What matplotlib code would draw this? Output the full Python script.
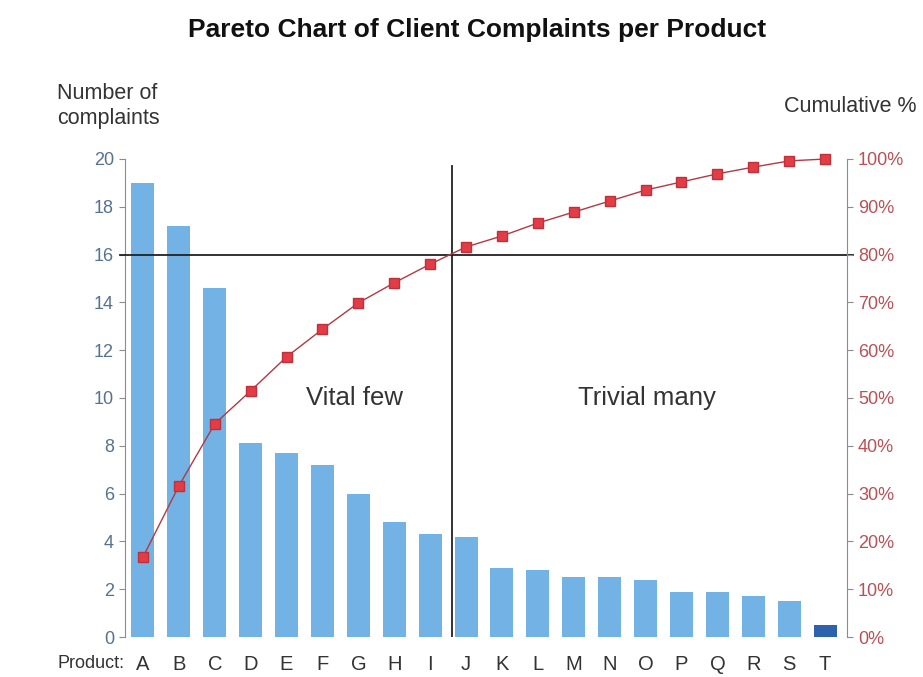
import matplotlib
matplotlib.use("Agg")
import matplotlib.pyplot as plt
import numpy as np

plt.rcParams['font.family'] = ['Liberation Sans', 'DejaVu Sans']

products = ["A", "B", "C", "D", "E", "F", "G", "H", "I", "J",
            "K", "L", "M", "N", "O", "P", "Q", "R", "S", "T"]
complaints = [19.0, 17.2, 14.6, 8.1, 7.7, 7.2, 6.0, 4.8, 4.3, 4.2,
              2.9, 2.8, 2.5, 2.5, 2.4, 1.9, 1.9, 1.7, 1.5, 0.5]
cumulative_pct = [16.7, 31.6, 44.6, 51.5, 58.6, 64.4, 69.9, 74.1, 78.0, 81.6,
                  83.9, 86.6, 88.9, 91.2, 93.5, 95.2, 96.9, 98.3, 99.6, 100.0]
left_ticks = [0, 2, 4, 6, 8, 10, 12, 14, 16, 18, 20]
right_ticks = [0, 10, 20, 30, 40, 50, 60, 70, 80, 90, 100]
threshold_count = 16
cutoff_position = 8.62

fig = plt.figure(figsize=(9.23, 6.77), dpi=100)
ax = fig.add_axes([125/923, 1-637/677, (847-125)/923, (637-159)/677])
ax2 = ax.twinx()

x = np.arange(len(products))
colors = ["#72b2e4"] * len(products)
colors[-1] = "#2f62ad"
ax.bar(x, complaints, width=0.64, color=colors, zorder=2)

ax.set_xlim(-0.5, 19.61)
ax.set_ylim(0, 20)
ax2.set_ylim(0, 100)

ax.set_yticks(left_ticks)
ax.set_yticklabels([str(t) for t in left_ticks])
ax2.set_yticks(right_ticks)
ax2.set_yticklabels([f"{t}%" for t in right_ticks])

ax.set_xticks(x)
ax.set_xticklabels(products)

for a in (ax, ax2):
    for s in ("top", "bottom"):
        a.spines[s].set_visible(False)
ax.spines["right"].set_visible(False)
ax2.spines["left"].set_visible(False)
ax.spines["left"].set_color("#8c8c8c")
ax2.spines["right"].set_color("#8c8c8c")

ax.tick_params(axis="y", direction="out", length=4, color="#8c8c8c",
               labelcolor="#55728f", labelsize=13, pad=4)
ax2.tick_params(axis="y", direction="out", length=4, color="#8c8c8c",
                labelcolor="#b85056", labelsize=13, pad=4)
ax.tick_params(axis="x", length=0, labelsize=14.5, labelcolor="#333333", pad=13)

ax2.plot(x, cumulative_pct, color="#b03a44", lw=1.0, marker="s",
         markersize=7, markerfacecolor="#e23c46", markeredgecolor="#c0303a",
         zorder=3, clip_on=False)

# 80% reference lines
ax.plot([-0.007, 1.008], [threshold_count / 20] * 2, transform=ax.transAxes,
        color="#222222", lw=1.3, clip_on=False, zorder=4)
ax.plot([cutoff_position] * 2, [0, 19.7], color="#222222", lw=1.3, zorder=4)

ax.text(5.9, 10.0, "Vital few", fontsize=18.5, color="#333333", ha="center", va="center")
ax.text(14.05, 10.0, "Trivial many", fontsize=18.5, color="#333333", ha="center", va="center")

fig.text(477/923, 1-30/677, "Pareto Chart of Client Complaints per Product",
         fontsize=19, fontweight="bold", color="#111111", ha="center", va="center")
fig.text(57/923, 1-106/677, "Number of\ncomplaints", fontsize=15.5,
         color="#333333", ha="left", va="center", linespacing=1.25)
fig.text(917/923, 1-107/677, "Cumulative %", fontsize=15.5,
         color="#333333", ha="right", va="center")
fig.text(58/923, 1-664/677, "Product:", fontsize=13, color="#333333",
         ha="left", va="center")

fig.savefig("out.png", dpi=100, facecolor="white")
